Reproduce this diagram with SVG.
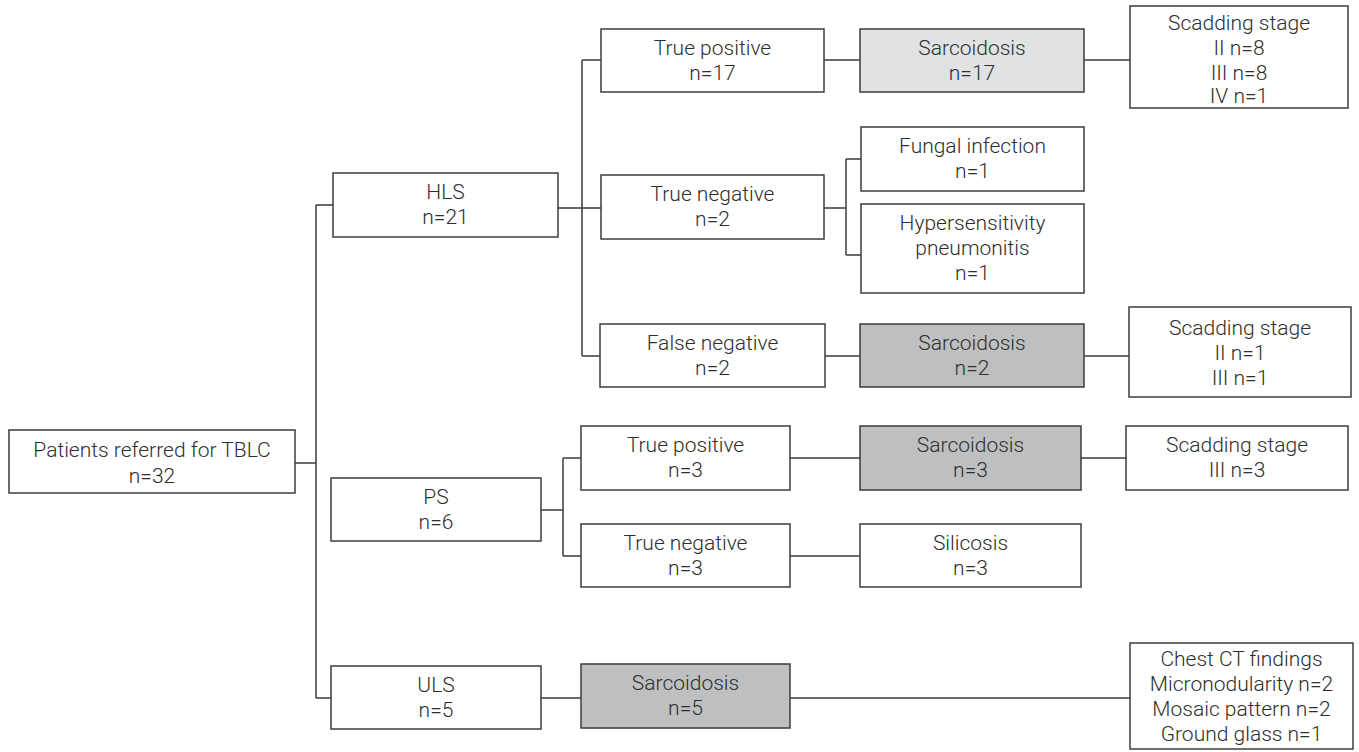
<svg xmlns="http://www.w3.org/2000/svg" width="1359" height="752" viewBox="0 0 1359 752">
<style>
.box{fill:#fff;stroke:#3c3c3c;stroke-width:1.5}
.lt{fill:#e1e2e4}
.dk{fill:#bebfc1}
.t{font-family:Roboto,"Liberation Sans",sans-serif;font-size:21px;font-weight:300;fill:#2e2e2e;text-anchor:middle}
.c{fill:none;stroke:#3c3c3c;stroke-width:1.5}
</style>
<rect width="1359" height="752" fill="#fff"/>
<g id="connectors" class="c">
<path d="M295 463H316M316 205V698M316 205H333M316 698H331"/>
<path d="M558 208H601M582 60V356M582 60H601M582 356H600"/>
<path d="M824 60H860M1084 60H1130"/>
<path d="M824 208H846M846 159V255M846 159H861M846 255H861"/>
<path d="M825 356H860M1084 356H1129"/>
<path d="M541 510H563M563 458V556M563 458H581M563 556H581"/>
<path d="M790 458H860M1081 458H1126M790 556H860"/>
<path d="M541 698H581M790 698H1130"/>
</g>
<g id="root"><rect class="box" x="9" y="430" width="286" height="63"/><text class="t" x="152" y="457">Patients referred for TBLC</text><text class="t" x="152" y="483">n=32</text></g>
<g id="hls"><rect class="box" x="333" y="173" width="225" height="64"/><text class="t" x="445.5" y="199">HLS</text><text class="t" x="445.5" y="224">n=21</text></g>
<g id="ps"><rect class="box" x="331" y="478" width="210" height="63"/><text class="t" x="436" y="504">PS</text><text class="t" x="436" y="529">n=6</text></g>
<g id="uls"><rect class="box" x="331" y="666" width="210" height="63"/><text class="t" x="436" y="692">ULS</text><text class="t" x="436" y="717">n=5</text></g>
<g id="tp1"><rect class="box" x="601" y="29" width="223" height="63"/><text class="t" x="712.5" y="55">True positive</text><text class="t" x="712.5" y="80">n=17</text></g>
<g id="sarc17"><rect class="box lt" x="860" y="29" width="224" height="63"/><text class="t" x="972" y="55">Sarcoidosis</text><text class="t" x="972" y="80">n=17</text></g>
<g id="scad1"><rect class="box" x="1130" y="6" width="218" height="102"/><text class="t" x="1239" y="30">Scadding stage</text><text class="t" x="1239" y="55">II n=8</text><text class="t" x="1239" y="80">III n=8</text><text class="t" x="1239" y="103">IV n=1</text></g>
<g id="tn1"><rect class="box" x="601" y="175" width="223" height="64"/><text class="t" x="712.5" y="201">True negative</text><text class="t" x="712.5" y="226">n=2</text></g>
<g id="fungal"><rect class="box" x="861" y="127" width="223" height="64"/><text class="t" x="972.5" y="153">Fungal infection</text><text class="t" x="972.5" y="178">n=1</text></g>
<g id="hyper"><rect class="box" x="861" y="204" width="223" height="89"/><text class="t" x="972.5" y="230">Hypersensitivity</text><text class="t" x="972.5" y="255">pneumonitis</text><text class="t" x="972.5" y="280">n=1</text></g>
<g id="fn"><rect class="box" x="600" y="324" width="225" height="63"/><text class="t" x="712.5" y="350">False negative</text><text class="t" x="712.5" y="375">n=2</text></g>
<g id="sarc2"><rect class="box dk" x="860" y="324" width="224" height="63"/><text class="t" x="972" y="350">Sarcoidosis</text><text class="t" x="972" y="375">n=2</text></g>
<g id="scad2"><rect class="box" x="1129" y="307" width="222" height="90"/><text class="t" x="1240" y="335">Scadding stage</text><text class="t" x="1240" y="360">II n=1</text><text class="t" x="1240" y="385">III n=1</text></g>
<g id="tp2"><rect class="box" x="581" y="426" width="209" height="64"/><text class="t" x="685.5" y="452">True positive</text><text class="t" x="685.5" y="477">n=3</text></g>
<g id="sarc3"><rect class="box dk" x="860" y="426" width="221" height="64"/><text class="t" x="970.5" y="452">Sarcoidosis</text><text class="t" x="970.5" y="477">n=3</text></g>
<g id="scad3"><rect class="box" x="1126" y="426" width="222" height="64"/><text class="t" x="1237" y="452">Scadding stage</text><text class="t" x="1237" y="477">III n=3</text></g>
<g id="tn2"><rect class="box" x="581" y="524" width="209" height="63"/><text class="t" x="685.5" y="550">True negative</text><text class="t" x="685.5" y="575">n=3</text></g>
<g id="silicosis"><rect class="box" x="860" y="524" width="221" height="63"/><text class="t" x="970.5" y="550">Silicosis</text><text class="t" x="970.5" y="575">n=3</text></g>
<g id="sarc5"><rect class="box dk" x="581" y="664" width="209" height="64"/><text class="t" x="685.5" y="690">Sarcoidosis</text><text class="t" x="685.5" y="715">n=5</text></g>
<g id="chestct"><rect class="box" x="1130" y="643" width="223" height="106"/><text class="t" x="1241.5" y="666">Chest CT findings</text><text class="t" x="1241.5" y="691">Micronodularity n=2</text><text class="t" x="1241.5" y="716">Mosaic pattern n=2</text><text class="t" x="1241.5" y="741">Ground glass n=1</text></g>
</svg>
